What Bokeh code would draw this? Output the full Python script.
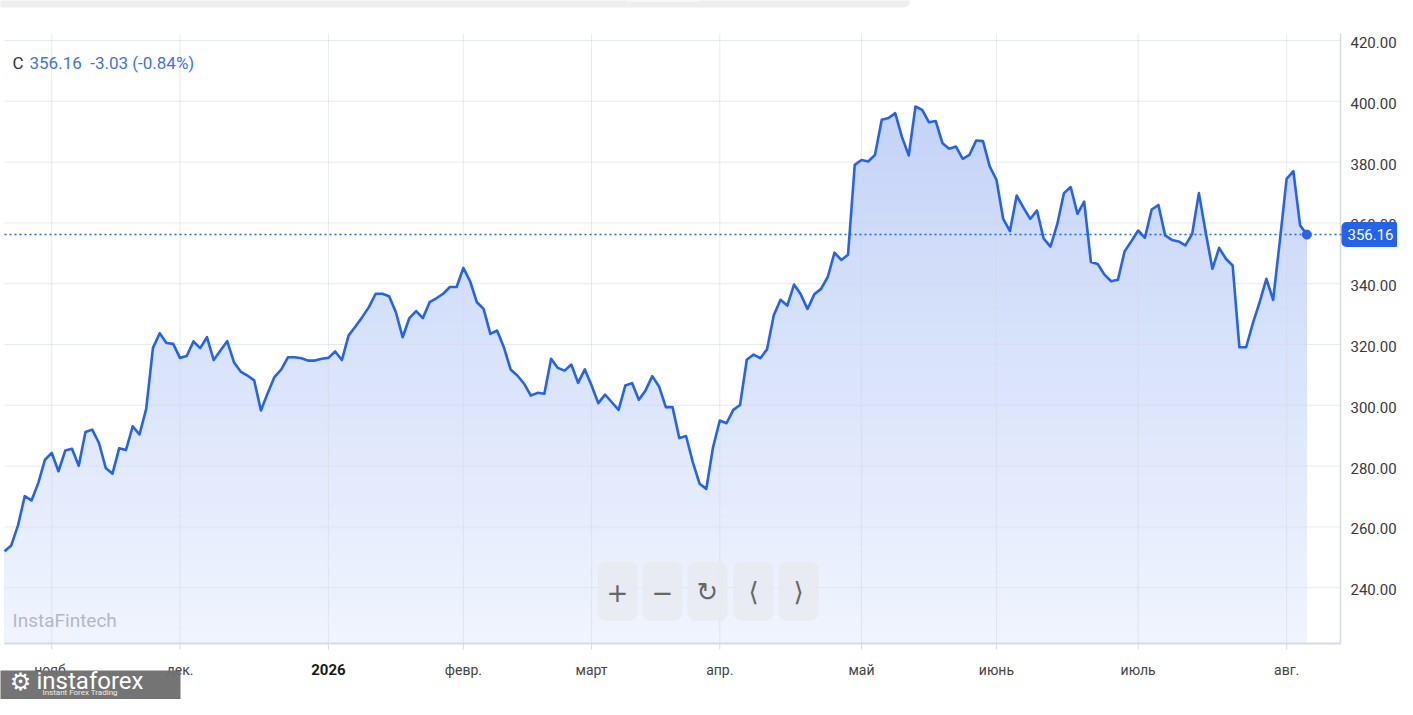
import numpy as np
from bokeh.plotting import figure
from bokeh.models import Label, BoxAnnotation
from bokeh.embed import file_html
from bokeh.resources import INLINE
from bokeh.core.properties import value

# ---------------- data (daily closes, trading-day index) ----------------
close = [
    252.0, 253.9, 260.5, 270.1, 268.7, 274.4, 282.1, 284.3, 278.3, 285.1,
    285.7, 280.1, 291.2, 292.0, 287.6, 279.4, 277.5, 285.9, 285.3, 293.1,
    290.4, 298.8, 318.9, 323.7, 320.5, 320.2, 315.6, 316.2, 321.0, 318.8,
    322.4, 314.9, 318.0, 321.1, 314.2, 311.1, 309.8, 308.2, 298.3, 304.0,
    309.3, 311.7, 315.8, 315.8, 315.5, 314.7, 314.7, 315.3, 315.6, 317.7,
    314.9, 323.0, 325.9, 329.0, 332.3, 336.7, 336.7, 335.9, 330.6, 322.4,
    328.7, 331.0, 328.7, 333.9, 335.2, 336.7, 338.9, 338.9, 345.2, 340.8,
    333.9, 331.7, 323.5, 324.6, 319.1, 311.8, 309.8, 307.1, 303.2, 304.1,
    303.8, 315.3, 312.3, 311.4, 313.4, 307.4, 311.8, 306.5, 300.7, 303.5,
    301.0, 298.5, 306.5, 307.3, 301.8, 304.9, 309.6, 306.2, 299.4, 299.4,
    289.2, 289.9, 281.3, 274.2, 272.5, 286.2, 295.0, 294.1, 298.5, 300.1,
    315.0, 316.7, 315.5, 318.4, 329.6, 334.7, 332.8, 339.7, 336.5, 331.7,
    336.5, 338.3, 342.2, 350.2, 347.8, 349.5, 379.1, 380.7, 380.2, 382.4,
    393.9, 394.5, 396.1, 388.2, 382.2, 398.3, 397.2, 393.1, 393.5, 386.2,
    384.4, 385.1, 381.1, 382.4, 387.1, 386.9, 378.6, 374.2, 361.3, 357.3,
    369.0, 365.0, 361.3, 364.1, 354.8, 352.2, 359.5, 369.8, 371.8, 363.0,
    367.0, 347.1, 346.5, 343.0, 340.8, 341.3, 350.7, 354.0, 357.5, 355.1,
    364.4, 365.9, 355.9, 354.4, 353.9, 352.6, 356.4, 369.8, 357.0, 344.9,
    351.8, 348.2, 346.0, 319.1, 319.1, 327.0, 333.9, 341.6, 334.7, 354.2,
    374.5, 377.0, 359.19, 356.16,
]
day_index = list(range(len(close)))

month_ticks = [7, 26, 48, 68, 87, 106, 127, 147, 168, 190]
month_labels = ["нояб.", "дек.", "2026", "февр.", "март", "апр.", "май", "июнь", "июль", "авг."]
year_label = "2026"
price_ticks = [240, 260, 280, 300, 320, 340, 360, 380, 400, 420]

last_close = 356.16
change = -3.03
change_pct = -0.84

# ---------------- layout helpers (page pixel -> data) ----------------
W, H = 1397, 699
X0_PX, STEP_PX = 4.0, 6.748
def px_x(px):
    return (px - X0_PX) / STEP_PX
def px_y(py):
    return 420.0 - (py - 40.0) / 3.04

FONT = "Roboto"
LINE_COLOR = "#2563eb"
GRID_COLOR = "#d3d9e3"
BORDER_COLOR = "#d5dbe3"

# chart area edges (data units)
ax_left, ax_right = px_x(4), px_x(1340)
ax_top, ax_bot = px_y(33), px_y(643)

p = figure(width=W, height=H, output_backend="svg", toolbar_location=None,
           x_range=(px_x(0), px_x(W)), y_range=(px_y(H), px_y(0)),
           x_axis_location=None, y_axis_location=None,
           min_border=0, min_border_left=0, min_border_right=0,
           min_border_top=0, min_border_bottom=0,
           background_fill_color="white", border_fill_color="white",
           outline_line_color=None)
p.grid.visible = False

# ---------------- gradient area fill ----------------
xs = np.array(day_index, dtype=float)
v = np.array(close, dtype=float)
top_rgb = np.array([196, 211, 247])
bot_rgb = np.array([241, 245, 254])
levels = np.linspace(max(v.max(), 400.0), ax_bot, 40)
for L in levels:
    t = min(max((L - ax_bot) / (400.0 - ax_bot), 0.0), 1.0)
    rgb = (bot_rgb + t * (top_rgb - bot_rgb)).round().astype(int)
    col = "#%02x%02x%02x" % tuple(rgb)
    p.varea(x=xs, y1=np.full_like(v, ax_bot), y2=np.minimum(v, L), fill_color=col, fill_alpha=1.0)

# ---------------- grid lines ----------------
mt = np.array(month_ticks, dtype=float)
pt = np.array(price_ticks, dtype=float)
p.segment(x0=mt, y0=np.full_like(mt, ax_bot), x1=mt, y1=np.full_like(mt, ax_top),
          line_color=GRID_COLOR, line_alpha=0.55, line_width=1)
p.segment(x0=np.full_like(pt, ax_left), y0=pt, x1=np.full_like(pt, ax_right), y1=pt,
          line_color=GRID_COLOR, line_alpha=0.55, line_width=1)

# axis border lines and ticks
p.segment(x0=[ax_left], y0=[ax_bot], x1=[ax_right], y1=[ax_bot], line_color=BORDER_COLOR, line_width=2)
p.segment(x0=[ax_right], y0=[ax_bot], x1=[ax_right], y1=[ax_top], line_color=BORDER_COLOR, line_width=1.5)
p.segment(x0=mt, y0=np.full_like(mt, ax_bot), x1=mt, y1=np.full_like(mt, px_y(649)),
          line_color=BORDER_COLOR, line_width=1)

# last price dotted line
p.segment(x0=[ax_left], y0=[last_close], x1=[px_x(1345)], y1=[last_close],
          line_color=LINE_COLOR, line_dash="2 3", line_width=1.5)

# ---------------- price line ----------------
p.line(xs, v, line_color=LINE_COLOR, line_width=2.6, line_join="round")
p.scatter([xs[-1]], [v[-1]], size=9, fill_color=LINE_COLOR, line_color=LINE_COLOR)

# ---------------- tick labels ----------------
p.text(x=np.full_like(pt, px_x(1350)), y=pt, text=["%.2f" % t for t in price_ticks],
       text_font=value(FONT), text_font_size="15px", text_color="#3a3a3a",
       text_align="left", text_baseline="middle", y_offset=2)

norm_t = [t for t, lab in zip(month_ticks, month_labels) if lab != year_label]
norm_l = [lab for lab in month_labels if lab != year_label]
bold_t = [t for t, lab in zip(month_ticks, month_labels) if lab == year_label]
bold_l = [lab for lab in month_labels if lab == year_label]
p.text(x=norm_t, y=[px_y(669)] * len(norm_t), text=norm_l,
       text_font=value(FONT), text_font_size="14px", text_color="#444444",
       text_align="center", text_baseline="middle")
p.text(x=bold_t, y=[px_y(669)] * len(bold_t), text=bold_l,
       text_font=value(FONT), text_font_size="15px", text_font_style="bold",
       text_color="#1a1a1a", text_align="center", text_baseline="middle")

# ---------------- top toolbar strip ----------------
p.add_layout(BoxAnnotation(left=px_x(-20), right=px_x(910), top=px_y(-10), bottom=px_y(7),
                           fill_color="#eeeeee", fill_alpha=1.0, line_color=None, border_radius=8))
p.add_layout(BoxAnnotation(left=px_x(624), right=px_x(702), top=px_y(-10), bottom=px_y(1.5),
                           fill_color="#fafafa", fill_alpha=1.0, line_color="#e2e2e2",
                           line_width=1, border_radius=4))

# ---------------- header ----------------
p.add_layout(Label(x=px_x(12), y=px_y(62), text="C", text_font=FONT, text_font_size="17px",
                   text_color="#333333", text_baseline="middle"))
p.add_layout(Label(x=px_x(29), y=px_y(62),
                   text=f"{last_close:.2f}\u00a0\u00a0{change:.2f}\u00a0({change_pct:.2f}%)",
                   text_font=FONT, text_font_size="17px", text_color="#3d74e6",
                   text_baseline="middle"))

# watermark
p.add_layout(Label(x=px_x(12), y=px_y(620), text="InstaFintech", text_font=FONT,
                   text_font_size="19px", text_color="#b3b8bf", text_baseline="middle"))

# ---------------- zoom buttons ----------------
btn_left = [597, 642, 687, 733, 778]
btn_syms = ["+", "\u2212", "\u21bb", "\u27e8", "\u27e9"]
for bl, sym in zip(btn_left, btn_syms):
    p.add_layout(BoxAnnotation(left=px_x(bl), right=px_x(bl + 40), top=px_y(561), bottom=px_y(620),
                               fill_color="#e8ebf0", fill_alpha=0.85, line_color=None,
                               border_radius=8))
    p.add_layout(Label(x=px_x(bl + 20), y=px_y(591), text=sym, text_font="DejaVu Sans",
                       text_font_size="26px", text_color="#666666",
                       text_align="center", text_baseline="middle"))

# ---------------- price badge ----------------
p.add_layout(Label(x=px_x(1370), y=last_close, text=f"{last_close:.2f}", text_font=FONT,
                   text_font_size="15px", text_color="white", text_align="center",
                   text_baseline="middle", background_fill_color=LINE_COLOR,
                   border_radius=5, padding=dict(left=6, right=6, top=7, bottom=7)))

# ---------------- logo ----------------
p.add_layout(BoxAnnotation(left=px_x(-20), right=px_x(180), top=px_y(670), bottom=px_y(H + 10),
                           fill_color="#6f6f6f", fill_alpha=0.97, line_color=None))
p.add_layout(Label(x=px_x(20), y=px_y(681), text="\u2699", text_font="DejaVu Sans",
                   text_font_size="24px", text_color="white", text_align="center",
                   text_baseline="middle"))
p.add_layout(Label(x=px_x(36), y=px_y(680), text="instaforex", text_font=FONT,
                   text_font_size="24px", text_color="white", text_baseline="middle"))
p.add_layout(Label(x=px_x(42), y=px_y(692), text="Instant Forex Trading", text_font=FONT,
                   text_font_size="8px", text_color="#eeeeee", text_baseline="middle"))

open("out.html", "w").write(file_html(p, INLINE))
